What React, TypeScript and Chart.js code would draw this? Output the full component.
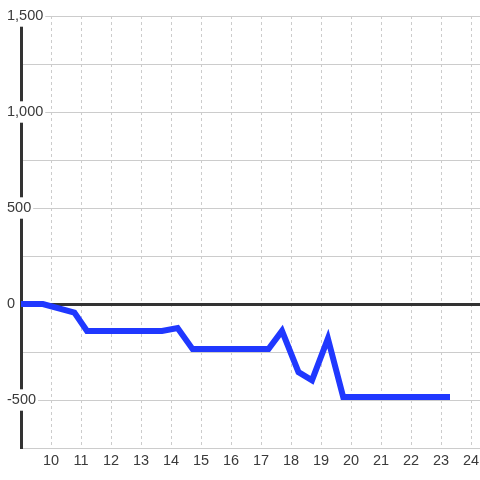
import React, { useEffect, useRef } from "react";
import { Chart, registerables } from "chart.js";

Chart.register(...registerables);

const times = [8.73, 9.73, 10.78, 11.2, 13.7, 14.22, 14.72, 17.25, 17.7, 18.25, 18.7, 19.23, 19.74, 23.3];
const values = [0, 0, -45, -140, -140, -125, -235, -235, -140, -355, -398, -180, -485, -485];
const xMin = 9;
const xMax = 24.3;
const yMin = -750;
const yMax = 1500;
const yStep = 250;
const yLabelStep = 500;

export default function App() {
  const ref = useRef<HTMLCanvasElement>(null);

  useEffect(() => {
    if (!ref.current) return;
    const font = { family: "'Liberation Sans', Arial, sans-serif", size: 14.5 };
    const chart = new Chart(ref.current, {
      type: "line",
      data: {
        datasets: [
          {
            data: times.map((t, i) => ({ x: t, y: values[i] })),
            borderColor: "#2038ff",
            borderWidth: 6,
            pointRadius: 0,
            tension: 0,
            fill: false,
          },
        ],
      },
      options: {
        animation: false,
        responsive: false,
        layout: { padding: { left: 6, top: 16, right: 0, bottom: 0 } },
        plugins: { legend: { display: false }, tooltip: { enabled: false } },
        scales: {
          x: {
            type: "linear",
            min: xMin,
            max: xMax,
            afterFit: (s: any) => {
              s.height = 32;
              s.paddingLeft = 0;
              s.paddingRight = 0;
            },
            grid: {
              color: (ctx: any) => (ctx.tick && ctx.tick.value === xMin ? "rgba(0,0,0,0)" : "#cccccc"),
              lineWidth: 1,
              drawTicks: false,
            },
            border: { display: true, color: "#cccccc", width: 1, dash: [3, 3] },
            ticks: {
              stepSize: 1,
              includeBounds: false,
              padding: 4,
              color: "#3a3a3a",
              font,
              maxRotation: 0,
              autoSkip: false,
              callback: (v: any) => (v === xMin ? "" : String(v)),
            },
          },
          y: {
            type: "linear",
            min: yMin,
            max: yMax,
            afterFit: (s: any) => {
              s.width = 15;
              s.paddingTop = 0;
              s.paddingBottom = 0;
            },
            grid: {
              color: (ctx: any) => (ctx.tick && ctx.tick.value === 0 ? "#333333" : "#cccccc"),
              lineWidth: (ctx: any) => (ctx.tick && ctx.tick.value === 0 ? 3 : 1),
              drawTicks: false,
            },
            border: { display: true, color: "#333333", width: 3 },
            ticks: {
              stepSize: yStep,
              mirror: true,
              padding: -14,
              color: "#3a3a3a",
              font,
              showLabelBackdrop: true,
              backdropPadding: 2,
              backdropColor: (ctx: any) =>
                ctx.tick && ctx.tick.value % yLabelStep === 0 ? "#ffffff" : "rgba(0,0,0,0)",
              callback: (v: any) =>
                Number(v) % yLabelStep === 0 ? Number(v).toLocaleString("en-US") : "",
            },
          },
        },
      },
    });
    return () => chart.destroy();
  }, []);

  return (
    <div style={{ position: "fixed", left: 0, top: 0, width: 480, height: 480, background: "#ffffff" }}>
      <canvas ref={ref} width={480} height={480} style={{ display: "block" }} />
    </div>
  );
}
